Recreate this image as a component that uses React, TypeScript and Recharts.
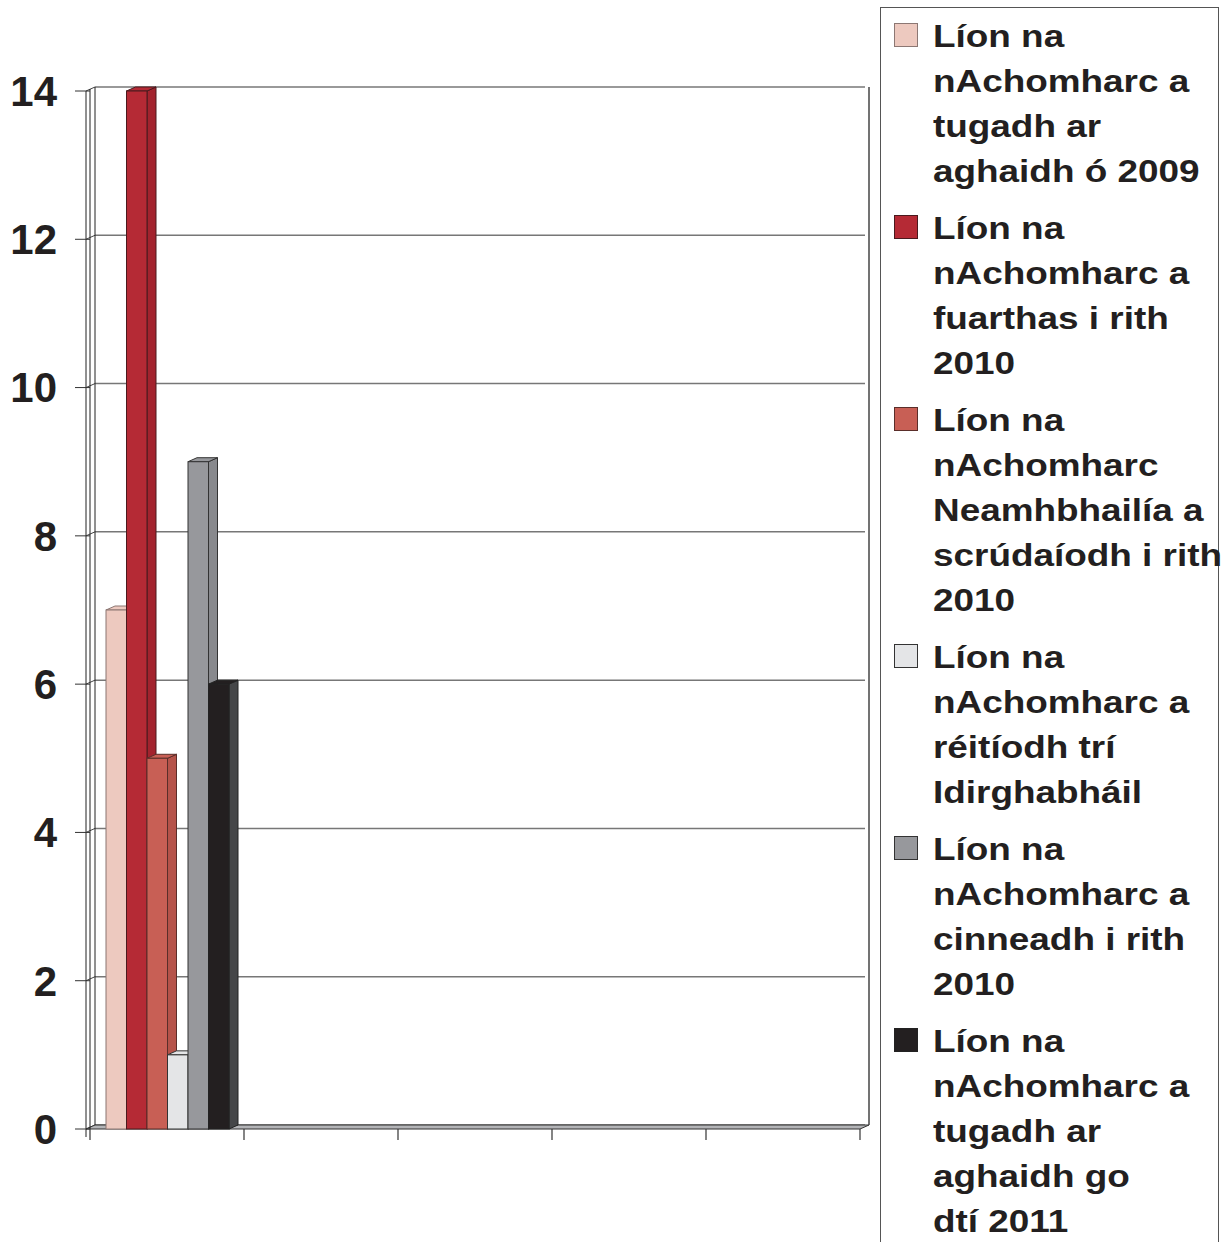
import React from 'react'
import { BarChart, Bar, XAxis, YAxis, CartesianGrid, Legend, usePlotArea } from 'recharts'

// one group on the axis holds data, the other four slots are empty
const categories = ['1', '2', '3', '4', '5']

const carriedFrom2009 = [7, null, null, null, null]
const received2010 = [14, null, null, null, null]
const invalidExamined2010 = [5, null, null, null, null]
const resolvedMediation = [1, null, null, null, null]
const decided2010 = [9, null, null, null, null]
const carriedTo2011 = [6, null, null, null, null]

const seriesNames = [
  'Líon na\nnAchomharc a\ntugadh ar\naghaidh ó 2009',
  'Líon na\nnAchomharc a\nfuarthas i rith\n2010',
  'Líon na\nnAchomharc\nNeamhbhailía a\nscrúdaíodh i rith\n2010',
  'Líon na\nnAchomharc a\nréitíodh trí\nIdirghabháil',
  'Líon na\nnAchomharc a\ncinneadh i rith\n2010',
  'Líon na\nnAchomharc a\ntugadh ar\naghaidh go\ndtí 2011',
]

const yTicks = [0, 2, 4, 6, 8, 10, 12, 14]

const SERIES = [
  { key: 's0', values: carriedFrom2009, fill: '#EDC9BF', side: '#D9B2A8', stroke: '#8c7773' },
  { key: 's1', values: received2010, fill: '#B52A35', side: '#A3232E', stroke: '#4a1a1e' },
  { key: 's2', values: invalidExamined2010, fill: '#C85F55', side: '#B5534A', stroke: '#5a2e2a' },
  { key: 's3', values: resolvedMediation, fill: '#E4E5E7', side: '#CDCED1', stroke: '#333' },
  { key: 's4', values: decided2010, fill: '#97989C', side: '#88898D', stroke: '#333' },
  { key: 's5', values: carriedTo2011, fill: '#231F20', side: '#454648', stroke: '#222' },
]

const data = categories.map((c, i) => {
  const row: any = { cat: c }
  SERIES.forEach((s) => { row[s.key] = s.values[i] })
  return row
})

const DX = 9
const DY = 4
const FONT = "'Liberation Sans', Arial, Helvetica, sans-serif"

function Bar3D(props: any) {
  const { x, y, width, height, fill, side, stroke } = props
  if (x == null || y == null || !width || height == null) return null
  const r = x + width
  const b = y + height
  return (
    <g>
      <polygon points={`${r},${y} ${r + DX},${y - DY} ${r + DX},${b - DY} ${r},${b}`} fill={side} stroke={stroke} strokeWidth={1} />
      <polygon points={`${x},${y} ${x + DX},${y - DY} ${r + DX},${y - DY} ${r},${y}`} fill={fill} stroke={stroke} strokeWidth={1} />
      <rect x={x} y={y} width={width} height={height} fill={fill} stroke={stroke} strokeWidth={1} />
    </g>
  )
}

// walls, floor and the group-boundary ticks of the 3d box
function Frame() {
  const area = usePlotArea()
  if (!area) return null
  const { x, y, width, height } = area
  const b = y + height
  const r = x + width
  const step = width / categories.length
  return (
    <g>
      <polygon points={`${x - 4},${b} ${r},${b} ${r + DX},${b - DY} ${x + 5},${b - DY}`} fill="#b3b4b7" stroke="#333" strokeWidth={1} />
      <line x1={x - 4} y1={y} x2={x - 4} y2={b + 8} stroke="#222" strokeWidth={1} />
      <line x1={x} y1={y - 2} x2={x} y2={b} stroke="#222" strokeWidth={1} />
      <line x1={x + 5} y1={y - DY} x2={x + 5} y2={b - DY} stroke="#222" strokeWidth={1} />
      <line x1={r + DX} y1={y - DY} x2={r + DX} y2={b - DY} stroke="#444" strokeWidth={1.5} />
      {categories.concat(['end']).map((_, i) => (
        <line key={i} x1={x + i * step} y1={b} x2={x + i * step} y2={b + 11} stroke="#333" strokeWidth={1.2} />
      ))}
    </g>
  )
}

const gridLine = (p: any) => {
  const { x1, y1, x2, y2 } = p
  return (
    <g key={`grid-${p.index}-${y1}`}>
      <line x1={x1 - 4} y1={y1} x2={x1 + 5} y2={y1 - DY} stroke="#444" strokeWidth={1} />
      <line x1={x1 + 5} y1={y1 - DY} x2={x2 + 5} y2={y2 - DY} stroke="#777" strokeWidth={1.5} />
    </g>
  )
}

const seriesIndex = (item: any) => SERIES.findIndex((s) => s.key === item.dataKey)

const renderLegend = (props: any) => {
  const items = [...(props.payload || [])].sort((a: any, b: any) => seriesIndex(a) - seriesIndex(b))
  return (
    <div style={{ width: '100%', height: '100%', boxSizing: 'border-box', border: '1.5px solid #555', paddingTop: 6, background: '#fff' }}>
      {items.map((entry: any, i: number) => {
        const s = SERIES[seriesIndex(entry)]
        return (
          <div key={i} style={{ display: 'flex', alignItems: 'flex-start', marginBottom: 12 }}>
            <div style={{ width: 22, height: 22, marginTop: 9, marginLeft: 13, flexShrink: 0, background: entry.color, border: `1.5px solid ${s ? s.stroke : '#333'}` }} />
            <div style={{ marginLeft: 15, fontFamily: FONT, fontWeight: 700, fontSize: 31, lineHeight: '45px', color: '#231F20', whiteSpace: 'pre', transform: 'scaleX(1.19)', transformOrigin: '0 0' }}>
              {entry.value}
            </div>
          </div>
        )
      })}
    </div>
  )
}

export default function App() {
  return (
    <div style={{ position: 'absolute', left: 0, top: 0, width: 1229, height: 1242, overflow: 'hidden', background: '#fff' }}>
      <BarChart
        width={1229}
        height={1242}
        data={data}
        margin={{ top: 91, right: 369, bottom: 113, left: 0 }}
        barGap={0}
        barSize={20.5}
      >
        <Frame />
        <CartesianGrid vertical={false} horizontal={gridLine} />
        <XAxis dataKey="cat" hide />
        <YAxis
          domain={[0, 14]}
          ticks={yTicks}
          width={90}
          tickSize={15}
          tickMargin={18}
          axisLine={false}
          tickLine={{ stroke: '#333' }}
          tick={{ fontFamily: FONT, fontSize: 42, fontWeight: 700, fill: '#231F20' }}
        />
        <Legend
          layout="vertical"
          align="center"
          verticalAlign="middle"
          itemSorter={seriesIndex}
          content={renderLegend}
          wrapperStyle={{ left: 880, top: 7, width: 339, height: 1260 }}
        />
        {SERIES.map((s, i) => (
          <Bar
            key={s.key}
            dataKey={s.key}
            name={seriesNames[i]}
            fill={s.fill}
            isAnimationActive={false}
            shape={(p: any) => <Bar3D {...p} side={s.side} stroke={s.stroke} />}
          />
        ))}
      </BarChart>
    </div>
  )
}
